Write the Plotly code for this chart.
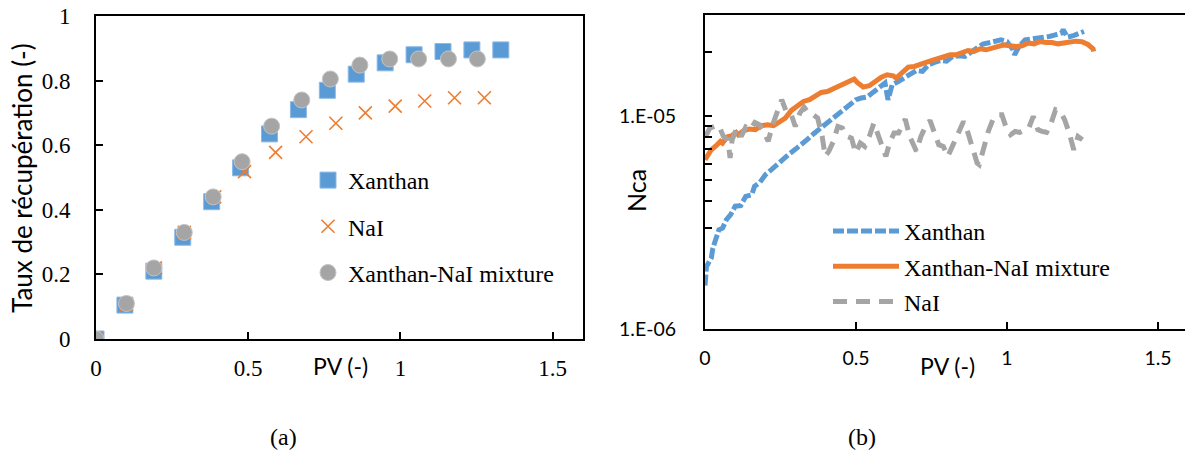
import plotly.graph_objects as go

W, H = 1185, 456

# ---------- (a) recovery rate ----------
pv_xanthan = [0, 0.095, 0.19, 0.285, 0.38, 0.475, 0.57, 0.665, 0.76, 0.855, 0.95, 1.045, 1.14, 1.235, 1.33]
rec_xanthan = [0, 0.105, 0.21, 0.315, 0.425, 0.53, 0.635, 0.71, 0.77, 0.82, 0.855, 0.88, 0.89, 0.895, 0.895]

pv_nai = [0, 0.098, 0.195, 0.29, 0.39, 0.488, 0.59, 0.69, 0.788, 0.885, 0.983, 1.08, 1.178, 1.276]
rec_nai = [0, 0.105, 0.22, 0.33, 0.44, 0.518, 0.578, 0.626, 0.668, 0.70, 0.721, 0.737, 0.747, 0.747]

pv_mix = [0, 0.1, 0.19, 0.29, 0.385, 0.48, 0.577, 0.676, 0.77, 0.867, 0.965, 1.06, 1.158, 1.253]
rec_mix = [0, 0.11, 0.22, 0.33, 0.44, 0.549, 0.659, 0.74, 0.805, 0.848, 0.867, 0.867, 0.867, 0.867]

# ---------- (b) capillary number ----------
pv_x_b = [0.0, 0.005, 0.011, 0.021, 0.026, 0.036, 0.046, 0.058, 0.071, 0.085, 0.1, 0.118, 0.135, 0.155,
          0.164, 0.182, 0.2, 0.22, 0.24, 0.26, 0.28, 0.30, 0.32, 0.34, 0.36, 0.38, 0.40, 0.42, 0.44,
          0.46, 0.48, 0.50, 0.517, 0.537, 0.556, 0.576, 0.596, 0.606, 0.62, 0.64, 0.66, 0.68, 0.70,
          0.72, 0.74, 0.76, 0.78, 0.80, 0.82, 0.84, 0.86, 0.88, 0.90, 0.92, 0.94, 0.96, 0.98, 1.0,
          1.02, 1.025, 1.04, 1.06, 1.08, 1.10, 1.12, 1.14, 1.16, 1.18, 1.186, 1.20, 1.22, 1.24, 1.255]
nca_x_b = [1.6e-6, 1.97e-6, 2.04e-6, 2.16e-6, 2.40e-6, 2.71e-6, 2.93e-6, 2.98e-6, 3.27e-6, 3.45e-6,
           3.78e-6, 3.80e-6, 4.21e-6, 4.28e-6, 4.69e-6, 4.90e-6, 5.32e-6, 5.62e-6, 5.99e-6, 6.30e-6,
           6.68e-6, 7.02e-6, 7.36e-6, 7.82e-6, 8.29e-6, 8.72e-6, 9.30e-6, 9.72e-6, 1.018e-5, 1.075e-5,
           1.122e-5, 1.198e-5, 1.22e-5, 1.233e-5, 1.297e-5, 1.36e-5, 1.435e-5, 1.198e-5, 1.41e-5,
           1.46e-5, 1.515e-5, 1.588e-5, 1.645e-5, 1.628e-5, 1.749e-5, 1.794e-5, 1.834e-5, 1.82e-5,
           1.915e-5, 1.929e-5, 1.915e-5, 2.0e-5, 2.08e-5, 2.19e-5, 2.22e-5, 2.26e-5, 2.294e-5, 2.25e-5,
           2.058e-5, 1.95e-5, 2.134e-5, 2.294e-5, 2.31e-5, 2.34e-5, 2.36e-5, 2.378e-5, 2.42e-5,
           2.465e-5, 2.556e-5, 2.36e-5, 2.40e-5, 2.48e-5, 2.51e-5]

pv_mix_b = [0.0, 0.021, 0.036, 0.051, 0.058, 0.073, 0.088, 0.103, 0.11, 0.128, 0.147, 0.167, 0.187,
            0.207, 0.227, 0.247, 0.266, 0.286, 0.306, 0.326, 0.346, 0.366, 0.385, 0.405, 0.425, 0.445,
            0.465, 0.485, 0.494, 0.504, 0.524, 0.544, 0.564, 0.584, 0.603, 0.623, 0.633, 0.653, 0.673,
            0.693, 0.713, 0.732, 0.752, 0.772, 0.792, 0.812, 0.831, 0.851, 0.871, 0.891, 0.911, 0.931,
            0.95, 0.97, 0.99, 1.01, 1.03, 1.05, 1.069, 1.089, 1.109, 1.129, 1.149, 1.169, 1.188, 1.208,
            1.228, 1.248, 1.268, 1.285, 1.287]
nca_mix_b = [6.26e-6, 6.97e-6, 7.26e-6, 7.63e-6, 7.49e-6, 8.0e-6, 8.11e-6, 8.41e-6, 8.2e-6, 8.59e-6,
             8.72e-6, 8.66e-6, 9.04e-6, 9.14e-6, 9.04e-6, 9.37e-6, 9.82e-6, 1.067e-5, 1.122e-5,
             1.176e-5, 1.198e-5, 1.242e-5, 1.297e-5, 1.31e-5, 1.355e-5, 1.394e-5, 1.435e-5, 1.477e-5,
             1.50e-5, 1.445e-5, 1.374e-5, 1.394e-5, 1.46e-5, 1.53e-5, 1.57e-5, 1.553e-5, 1.515e-5,
             1.61e-5, 1.706e-5, 1.718e-5, 1.768e-5, 1.794e-5, 1.834e-5, 1.88e-5, 1.929e-5, 1.95e-5,
             1.95e-5, 2.0e-5, 2.043e-5, 2.02e-5, 2.08e-5, 2.058e-5, 2.096e-5, 2.118e-5, 2.17e-5,
             2.15e-5, 2.134e-5, 2.15e-5, 2.212e-5, 2.195e-5, 2.25e-5, 2.227e-5, 2.227e-5, 2.195e-5,
             2.212e-5, 2.245e-5, 2.26e-5, 2.245e-5, 2.18e-5, 2.08e-5, 2.02e-5]

pv_nai_b = [0.002, 0.016, 0.031, 0.046, 0.061, 0.076, 0.083, 0.09, 0.105, 0.12, 0.135, 0.15, 0.165,
            0.18, 0.195, 0.209, 0.224, 0.239, 0.254, 0.269, 0.284, 0.299, 0.314, 0.328, 0.343, 0.358,
            0.373, 0.388, 0.398, 0.41, 0.425, 0.44, 0.455, 0.47, 0.485, 0.499, 0.514, 0.529, 0.544,
            0.559, 0.574, 0.589, 0.599, 0.611, 0.626, 0.641, 0.656, 0.663, 0.678, 0.693, 0.70, 0.715,
            0.73, 0.745, 0.76, 0.774, 0.789, 0.804, 0.819, 0.834, 0.849, 0.856, 0.871, 0.886, 0.901,
            0.908, 0.923, 0.938, 0.953, 0.968, 0.983, 0.998, 1.012, 1.027, 1.042, 1.057, 1.072, 1.087,
            1.102, 1.116, 1.131, 1.146, 1.161, 1.176, 1.191, 1.206, 1.221, 1.235, 1.25]
nca_nai_b = [8.05e-6, 8.81e-6, 8.97e-6, 9.04e-6, 8.05e-6, 7.77e-6, 6.37e-6, 7.77e-6, 8.81e-6, 8.05e-6,
             8.91e-6, 8.66e-6, 9.37e-6, 9.14e-6, 8.5e-6, 7.63e-6, 9.14e-6, 1.037e-5, 1.198e-5,
             1.056e-5, 1.037e-5, 8.97e-6, 1.037e-5, 1.106e-5, 1.037e-5, 1.018e-5, 9.82e-6, 8.05e-6,
             6.49e-6, 6.85e-6, 7.63e-6, 8.97e-6, 8.81e-6, 8.05e-6, 7.91e-6, 6.73e-6, 7.49e-6, 7.23e-6,
             8.05e-6, 9.3e-6, 8.05e-6, 7.1e-6, 6.49e-6, 7.49e-6, 8.35e-6, 8.35e-6, 9.3e-6, 9.72e-6,
             8.05e-6, 7.23e-6, 6.85e-6, 8.05e-6, 8.97e-6, 9.58e-6, 8.2e-6, 7.36e-6, 7.23e-6, 6.49e-6,
             7.23e-6, 8.05e-6, 9.04e-6, 9.47e-6, 8.35e-6, 7.1e-6, 6.04e-6, 5.93e-6, 7.23e-6, 8.5e-6,
             9.65e-6, 1.018e-5, 1.018e-5, 8.81e-6, 8.2e-6, 8.5e-6, 8.41e-6, 8.59e-6, 8.81e-6, 1.0e-5,
             8.66e-6, 8.5e-6, 8.41e-6, 9.3e-6, 1.075e-5, 1.056e-5, 9.65e-6, 8.35e-6, 6.97e-6, 8.05e-6,
             7.77e-6]

x_ticks = [0, 0.5, 1, 1.5]
x_ticktext = ["0", "0.5", "1", "1.5"]
y_ticks_a = [0, 0.2, 0.4, 0.6, 0.8, 1]
y_ticktext_a = ["0", "0.2", "0.4", "0.6", "0.8", "1"]
y_ticks_b = [1e-6, 1e-5]
y_ticktext_b = ["1.E-06", "1.E-05"]
y_minor_b = [3e-6, 4e-6, 5e-6, 6e-6, 7e-6, 8e-6, 9e-6, 2e-5]

BLUE = "#5B9BD5"
ORANGE = "#ED7D31"
GRAY = "#A5A5A5"
SERIF = "Liberation Serif, Times New Roman, serif"
SANS = "Lato, Open Sans, sans-serif"


def px_x(p):
    return p / W


def px_y(p):
    return 1 - p / H


fig = go.Figure()

fig.add_trace(go.Scatter(x=pv_xanthan, y=rec_xanthan, mode="markers", name="Xanthan",
                         marker=dict(symbol="square", size=16, color=BLUE,
                                     line=dict(color="#8DB8E6", width=1)),
                         xaxis="x", yaxis="y", legend="legend", legendgroup="a1"))
fig.add_trace(go.Scatter(x=pv_nai, y=rec_nai, mode="markers", name="NaI",
                         marker=dict(symbol="x-thin", size=13, color=ORANGE,
                                     line=dict(color=ORANGE, width=1.6)),
                         xaxis="x", yaxis="y", legend="legend", legendgroup="a2"))
fig.add_trace(go.Scatter(x=pv_mix, y=rec_mix, mode="markers", name="Xanthan-NaI mixture",
                         marker=dict(symbol="circle", size=16, color=GRAY,
                                     line=dict(color="#C4C4C4", width=1)),
                         xaxis="x", yaxis="y", legend="legend", legendgroup="a3"))

fig.add_trace(go.Scatter(x=pv_x_b, y=nca_x_b, mode="lines", name="Xanthan",
                         line=dict(color=BLUE, width=5, dash="11px,3px"),
                         xaxis="x2", yaxis="y2", legend="legend2", legendgroup="b1"))
fig.add_trace(go.Scatter(x=pv_mix_b, y=nca_mix_b, mode="lines", name="Xanthan-NaI mixture",
                         line=dict(color=ORANGE, width=5),
                         xaxis="x2", yaxis="y2", legend="legend2", legendgroup="b2"))
fig.add_trace(go.Scatter(x=pv_nai_b, y=nca_nai_b, mode="lines", name="NaI",
                         line=dict(color=GRAY, width=5, dash="14px,9px"),
                         xaxis="x2", yaxis="y2", legend="legend2", legendgroup="b3"))

axis_common = dict(showline=True, linecolor="black", linewidth=2, showgrid=False, zeroline=False,
                   ticks="inside", tickcolor="black", tickwidth=2, automargin=False)

fig.update_layout(
    template="none",
    width=W, height=H, autosize=False,
    margin=dict(l=0, r=0, t=0, b=0, pad=0),
    paper_bgcolor="white", plot_bgcolor="white",
    xaxis=dict(domain=[px_x(96), px_x(583)], range=[0, 1.6], tickvals=x_ticks, ticktext=x_ticktext,
               anchor="y", mirror=True, ticklen=7, ticklabelstandoff=7,
               tickfont=dict(family=SERIF, size=23, color="black"), **axis_common),
    yaxis=dict(domain=[px_y(339), px_y(16)], range=[0, 1], tickvals=y_ticks_a, ticktext=y_ticktext_a,
               anchor="x", mirror=True, ticklen=7, ticklabelstandoff=19,
               tickfont=dict(family=SERIF, size=23, color="black"), **axis_common),
    xaxis2=dict(domain=[px_x(705), 1.0], range=[0, 1.5894], tickvals=x_ticks, ticktext=x_ticktext,
                anchor="y2", mirror=True, ticklen=7, ticklabelstandoff=11,
                tickfont=dict(family=SANS, size=19.5, color="black"), **axis_common),
    yaxis2=dict(domain=[px_y(329), px_y(15)], type="log", range=[-6, -4.5229],
                tickvals=y_ticks_b, ticktext=y_ticktext_b, anchor="x2", ticklen=7,
                ticklabelstandoff=23,
                minor=dict(tickvals=y_minor_b, ticks="inside", ticklen=7, tickcolor="black",
                           tickwidth=2, showgrid=False),
                tickfont=dict(family=SANS, size=19.5, color="black"), **axis_common),
    legend=dict(x=px_x(308), y=px_y(158), xanchor="left", yanchor="top",
                font=dict(family=SERIF, size=24, color="black"), bgcolor="rgba(0,0,0,0)",
                tracegroupgap=12, itemwidth=30, borderwidth=0),
    legend2=dict(x=px_x(828), y=px_y(209), xanchor="left", yanchor="top",
                 font=dict(family=SERIF, size=24, color="black"), bgcolor="rgba(0,0,0,0)",
                 tracegroupgap=1, itemwidth=66, borderwidth=0),
    annotations=[
        dict(text="Taux de récupération (-)", x=px_x(22), y=px_y(178), xref="paper", yref="paper",
             xanchor="center", yanchor="middle",
             textangle=-90, showarrow=False, font=dict(family=SANS, size=26, color="black")),
        dict(text="PV (-)", x=px_x(340), y=px_y(366), xref="paper", yref="paper",
             xanchor="center", yanchor="middle",
             showarrow=False, font=dict(family=SANS, size=23, color="black")),
        dict(text="PV (-)", x=px_x(947), y=px_y(366), xref="paper", yref="paper",
             xanchor="center", yanchor="middle",
             showarrow=False, font=dict(family=SANS, size=23, color="black")),
        dict(text="Nca", x=px_x(636), y=px_y(191), xref="paper", yref="paper",
             xanchor="center", yanchor="middle",
             textangle=-90, showarrow=False, font=dict(family=SANS, size=25, color="black")),
        dict(text="(a)", x=px_x(283), y=px_y(437), xref="paper", yref="paper",
             xanchor="center", yanchor="middle",
             showarrow=False, font=dict(family=SERIF, size=24, color="black")),
        dict(text="(b)", x=px_x(862), y=px_y(437), xref="paper", yref="paper",
             xanchor="center", yanchor="middle",
             showarrow=False, font=dict(family=SERIF, size=24, color="black")),
    ],
)

fig.write_html("out.html", config={"displayModeBar": False, "responsive": False},
               post_script="document.body.style.margin='0px';document.body.style.overflow='hidden';")
